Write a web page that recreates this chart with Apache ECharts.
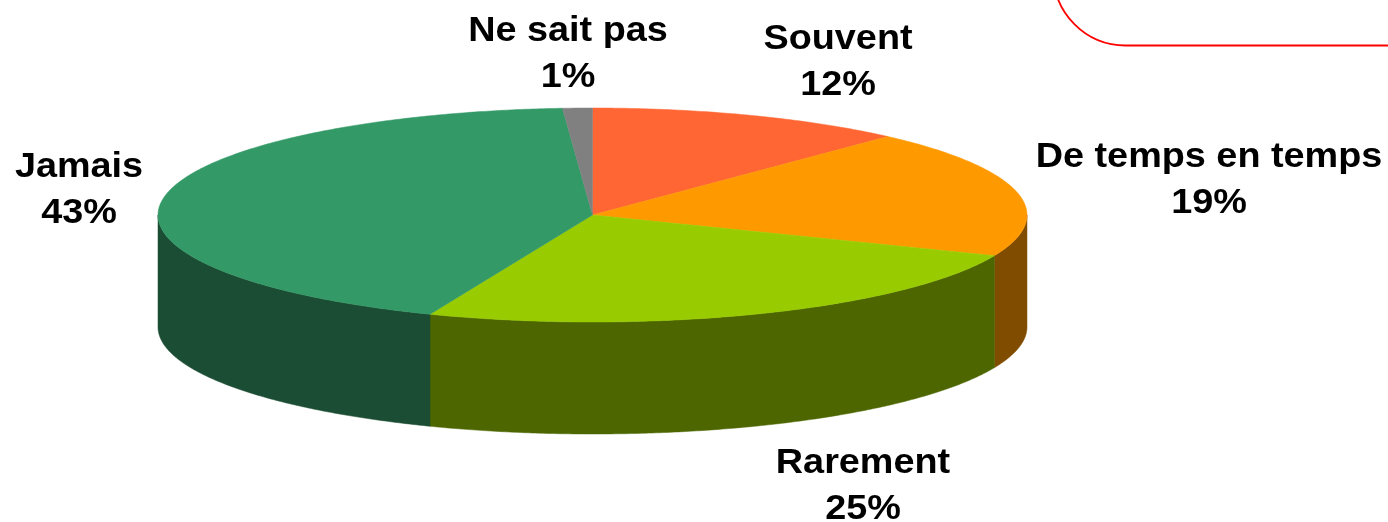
<!DOCTYPE html>
<html>
<head>
<meta charset="utf-8">
<style>html,body{margin:0;padding:0;background:#fff}#c{width:1388px;height:522px}</style>
<script src="https://cdn.jsdelivr.net/npm/echarts@6/dist/echarts.min.js"></script>
</head>
<body>
<div id="c"></div>
<script>
// Data, in drawing order (clockwise from 12 o'clock); labels show the rounded percentage
const categories = ['Souvent', 'De temps en temps', 'Rarement', 'Jamais', 'Ne sait pas'];
const values = [11.9, 19.3, 24.9, 42.8, 1.1];
const topColors = ['#FF6633', '#FF9900', '#99CC00', '#339966', '#808080'];
const sideColors = ['#804D1A', '#804D00', '#4D6600', '#1A4D33', '#404040'];
const labelCenters = [[838, 62], [1209, 180], [863, 486], [79, 190], [568, 54]];

// Pie geometry
const cx = 592.5, cy = 215, rx = 434.5, ry = 107, depth = 112;
const total = values.reduce((a, b) => a + b, 0);
const pt = (deg, dy) => {
  const r = deg * Math.PI / 180;
  return [cx + rx * Math.sin(r), cy - ry * Math.cos(r) + (dy || 0)];
};
const arc = (a0, a1, dy) => {
  const n = Math.max(2, Math.ceil((a1 - a0) * 2));
  const out = [];
  for (let i = 0; i <= n; i++) out.push(pt(a0 + (a1 - a0) * i / n, dy));
  return out;
};

const chart = echarts.init(document.getElementById('c'), null, { renderer: 'canvas' });
chart.setOption({
  animation: false,
  backgroundColor: '#ffffff',
  graphic: [{
    type: 'rect', z: 0, silent: true,
    shape: { x: 1053.5, y: -100, width: 420, height: 145.5, r: 72 },
    style: { fill: '#ffffff', stroke: '#FF0000', lineWidth: 1.8 }
  }],
  series: [{
    type: 'custom',
    coordinateSystem: 'none',
    silent: true,
    data: values.map((v, i) => ({ name: categories[i], value: [v, i] })),
    renderItem(params, api) {
      const v = api.value(0), i = api.value(1);
      let before = 0;
      for (let k = 0; k < i; k++) before += values[k];
      const a0 = before / total * 360, a1 = (before + v) / total * 360;
      const children = [];
      const s0 = Math.max(a0, 90), s1 = Math.min(a1, 270);
      if (s1 > s0) {
        children.push({
          type: 'polygon',
          shape: { points: arc(s0, s1, 0).concat(arc(s0, s1, depth).reverse()) },
          style: { fill: sideColors[i], stroke: sideColors[i], lineWidth: 0.5 }
        });
      }
      children.push({
        type: 'polygon',
        shape: { points: [[cx, cy]].concat(arc(a0, a1, 0)) },
        style: { fill: topColors[i], stroke: topColors[i], lineWidth: 0.5 }
      });
      children.push({
        type: 'text',
        x: labelCenters[i][0], y: labelCenters[i][1],
        scaleX: 1.08,
        style: {
          x: 0, y: 0,
          text: categories[i] + '\n' + Math.round(v) + '%',
          align: 'center', verticalAlign: 'middle',
          font: 'bold 35px "Liberation Sans", Arial, sans-serif',
          lineHeight: 46, fill: '#000000'
        }
      });
      return { type: 'group', children };
    }
  }]
});
</script>
</body>
</html>
